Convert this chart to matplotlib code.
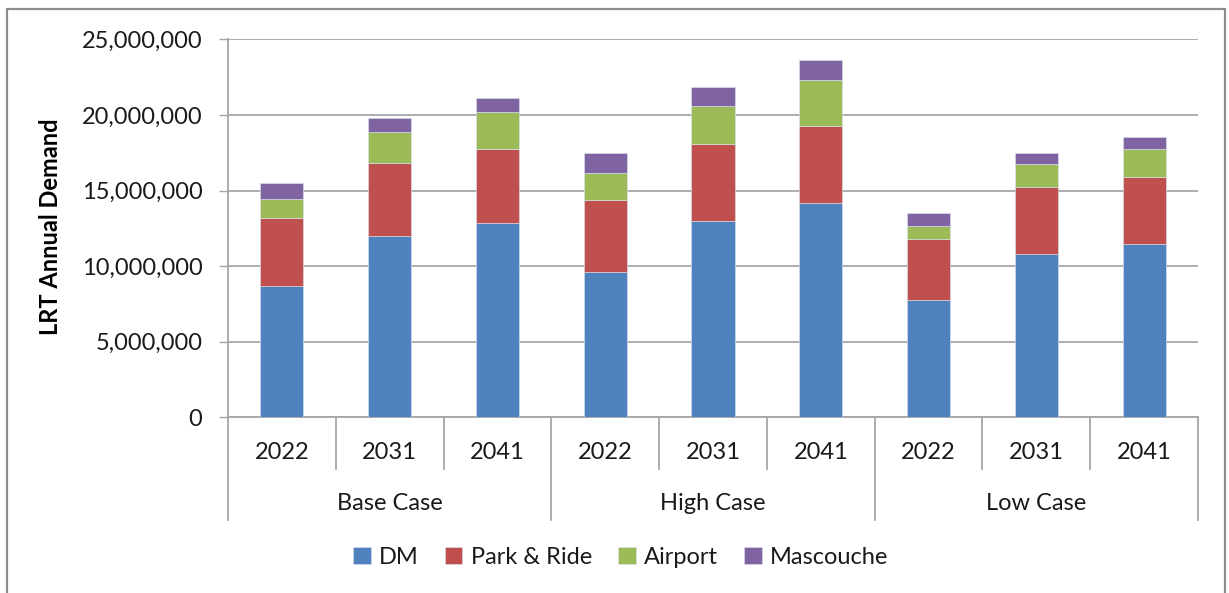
import numpy as np
import matplotlib
matplotlib.use("Agg")
import matplotlib.pyplot as plt
from matplotlib.patches import Rectangle
from matplotlib.ticker import FuncFormatter

# ─── Data ──────────────────────────────────────────────────────────
scenarios = ["Base Case", "High Case", "Low Case"]
years = ["2022", "2031", "2041"]

dm = [8_680_000, 11_990_000, 12_830_000,
      9_610_000, 13_000_000, 14_190_000,
      7_760_000, 10_800_000, 11_480_000]
park_ride = [4_480_000, 4_830_000, 4_910_000,
             4_760_000, 5_100_000, 5_100_000,
             4_050_000, 4_410_000, 4_410_000]
airport = [1_280_000, 2_030_000, 2_450_000,
           1_770_000, 2_510_000, 3_040_000,
           840_000, 1_520_000, 1_850_000]
mascouche = [1_040_000, 920_000, 950_000,
             1_360_000, 1_220_000, 1_280_000,
             860_000, 770_000, 800_000]

series = [("DM", dm, "#4F81BD"),
          ("Park & Ride", park_ride, "#C0504D"),
          ("Airport", airport, "#9BBB59"),
          ("Mascouche", mascouche, "#8064A2")]

plt.rcParams["font.family"] = ["Lato", "DejaVu Sans"]
TXT = "#1a1a1a"
GRID = "#A6A6A6"

fig = plt.figure(figsize=(12.29, 5.93), dpi=100)
ax = fig.add_axes([228 / 1229, 1 - 417.3 / 593, 970 / 1229, 378 / 593])

x = np.arange(len(dm))
bottom = np.zeros(len(dm))
for name, vals, color in series:
    vals = np.array(vals, dtype=float)
    ax.bar(x, vals, width=0.4, bottom=bottom, color=color, label=name,
           edgecolor="#dde4f0", linewidth=0.4, zorder=3)
    bottom += vals

# ─── Axes styling ──────────────────────────────────────────────────
ax.set_xlim(-0.5, 8.5)
ax.set_ylim(0, 25_000_000)
ax.set_yticks(np.arange(0, 25_000_001, 5_000_000))
ax.yaxis.set_major_formatter(FuncFormatter(lambda v, _: f"{int(v):,}"))
ax.tick_params(axis="y", length=6.5, width=1.0, color=GRID, pad=12,
               labelsize=17, labelcolor=TXT)
ax.set_xticks([])
ax.grid(axis="y", color=GRID, linewidth=1.3, zorder=0)
for s in ("top", "right"):
    ax.spines[s].set_visible(False)
for s in ("left", "bottom"):
    ax.spines[s].set_color(GRID)
    ax.spines[s].set_linewidth(1.3)

ax.set_ylabel("LRT Annual Demand", fontsize=17, fontweight="bold",
              color="black")
ax.yaxis.set_label_coords(-0.171, 0.503)

# ─── Two-level category axis ───────────────────────────────────────
trans = ax.get_xaxis_transform()
for b in np.arange(-0.5, 9.0, 1.0):
    depth = -0.2725 if (b + 0.5) % 3 == 0 else -0.1376
    ax.plot([b, b], [0, depth], transform=trans, color=GRID,
            linewidth=1.3, clip_on=False)
for i in range(len(dm)):
    ax.text(i, -0.0926, years[i % 3], transform=trans, ha="center",
            va="center", fontsize=17, color=TXT)
for g, name in enumerate(scenarios):
    ax.text(3 * g + 1, -0.2275, name, transform=trans, ha="center",
            va="center", fontsize=17, color=TXT)

# ─── Legend and outer frame ────────────────────────────────────────
fig.legend(loc="center", bbox_to_anchor=(0.505, 1 - 557 / 593), ncol=4,
           frameon=False, fontsize=17, handlelength=0.75, handleheight=0.75,
           handletextpad=0.35, columnspacing=1.1, labelcolor=TXT)

fig.patches.append(Rectangle((7 / 1229, -0.02), 1218 / 1229, 1.02 - 9 / 593,
                             transform=fig.transFigure, fill=False,
                             edgecolor="#8C8C8C", linewidth=1.6))

fig.savefig("out.png", dpi=100)
